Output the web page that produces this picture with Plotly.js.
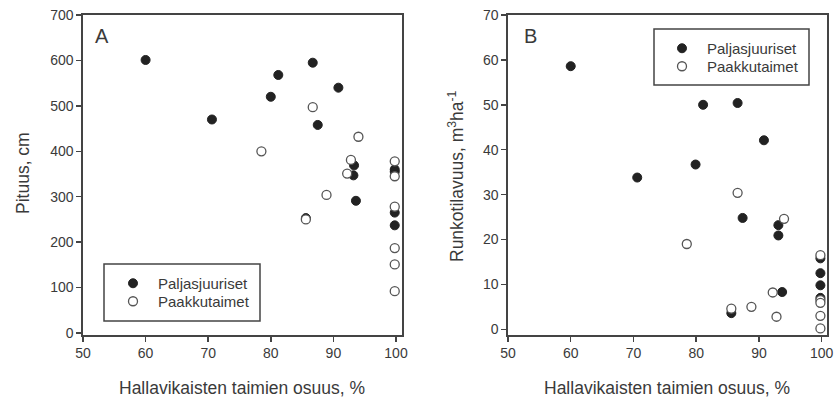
<!DOCTYPE html>
<html>
<head>
<meta charset="utf-8">
<script src="https://cdn.plot.ly/plotly-3.0.1.min.js"></script>
<style>html,body{margin:0;padding:0;background:#fff;}#chart{width:839px;height:399px;}</style>
</head>
<body>
<div id="chart"></div>
<script>
// Panel A: Pituus (cm)
const aBareX = [60.0, 70.6, 80.0, 81.2, 86.7, 90.8, 87.5, 93.3, 93.2, 93.6, 85.6, 99.8, 99.8, 99.8, 99.8];
const aBareY = [601, 470, 520, 568, 595, 540, 458, 369, 347, 291, 253, 360, 355, 265, 237];
const aPotX = [78.5, 86.7, 94.0, 92.8, 92.2, 88.9, 85.6, 99.8, 99.8, 99.8, 99.8, 99.8, 99.8];
const aPotY = [400, 497, 432, 381, 351, 304, 250, 378, 345, 278, 187, 151, 92];
// Panel B: Runkotilavuus (m3/ha)
const bBareX = [60.0, 70.6, 79.9, 81.1, 86.6, 90.8, 87.4, 93.1, 93.1, 93.7, 85.6, 99.8, 99.8, 99.8, 99.8];
const bBareY = [58.6, 33.8, 36.7, 50.0, 50.4, 42.1, 24.8, 23.2, 20.9, 8.3, 3.6, 15.8, 12.5, 9.8, 7.0];
const bPotX = [86.6, 78.5, 94.0, 85.6, 88.8, 92.2, 92.8, 99.8, 99.8, 99.8, 99.8, 99.8];
const bPotY = [30.4, 19.0, 24.6, 4.6, 5.0, 8.2, 2.8, 16.5, 6.5, 5.9, 3.0, 0.2];

const seriesNames = ["Paljasjuuriset", "Paakkutaimet"];
const xTicks = [50, 60, 70, 80, 90, 100];
const aTicks = [0, 100, 200, 300, 400, 500, 600, 700];
const bTicks = [0, 10, 20, 30, 40, 50, 60, 70];

const W = 839, H = 399;
const px = v => v / W, py = v => 1 - v / H;
const txt = '#3a3a3a';
const lineC = '#444';
const filledM = {size: 9, color: '#222', line: {color: '#222', width: 1}};
const openM = {size: 9, color: '#fff', line: {color: '#555', width: 1.3}};

const traces = [
  {x: aBareX, y: aBareY, xaxis: 'x', yaxis: 'y', mode: 'markers', type: 'scatter', name: seriesNames[0], marker: filledM, legend: 'legend', showlegend: true},
  {x: aPotX, y: aPotY, xaxis: 'x', yaxis: 'y', mode: 'markers', type: 'scatter', name: seriesNames[1], marker: openM, legend: 'legend2', showlegend: true},
  {x: bBareX, y: bBareY, xaxis: 'x2', yaxis: 'y2', mode: 'markers', type: 'scatter', name: seriesNames[0], marker: filledM, legend: 'legend3', showlegend: true},
  {x: bPotX, y: bPotY, xaxis: 'x2', yaxis: 'y2', mode: 'markers', type: 'scatter', name: seriesNames[1], marker: openM, legend: 'legend4', showlegend: true}
];

const axBase = {
  showgrid: false, zeroline: false, showline: true, linecolor: lineC, linewidth: 1.6,
  mirror: true, ticks: 'outside', ticklen: 5, tickwidth: 1.5, tickcolor: lineC,
  tickfont: {family: 'Liberation Sans, Arial, sans-serif', size: 14, color: txt},
  fixedrange: true
};
const yDom = [py(335), py(15)];

function leg(xc, yc) {
  return {x: px(xc - 25), y: py(yc - 16), xanchor: 'left', yanchor: 'top', bgcolor: 'rgba(0,0,0,0)', borderwidth: 0,
          itemwidth: 40, font: {size: 15, color: txt}, visible: true};
}

const layout = {
  width: W, height: H,
  margin: {l: 0, r: 0, t: 0, b: 0},
  showlegend: true,
  paper_bgcolor: '#fff', plot_bgcolor: '#fff',
  font: {family: 'Liberation Sans, Arial, sans-serif', color: txt},
  xaxis: Object.assign({}, axBase, {domain: [px(83), px(402)], range: [50, 100.96], tickvals: xTicks, anchor: 'y'}),
  yaxis: Object.assign({}, axBase, {domain: yDom, range: [-4.4, 700], tickvals: aTicks, anchor: 'x'}),
  xaxis2: Object.assign({}, axBase, {domain: [px(508), px(827)], range: [50, 100.85], tickvals: xTicks, anchor: 'y2'}),
  yaxis2: Object.assign({}, axBase, {domain: yDom, range: [-1.27, 70], tickvals: bTicks, anchor: 'x2'}),
  legend: leg(133, 283),
  legend2: leg(133, 301),
  legend3: leg(682, 48),
  legend4: leg(682, 66),
  shapes: [
    {type: 'rect', xref: 'paper', yref: 'paper', x0: px(104), x1: px(260), y0: py(264), y1: py(321), line: {color: lineC, width: 1.5}},
    {type: 'rect', xref: 'paper', yref: 'paper', x0: px(654), x1: px(809), y0: py(29), y1: py(85), line: {color: lineC, width: 1.5}}
  ],
  annotations: [
    {text: 'Hallavikaisten taimien osuus, %', xref: 'paper', yref: 'paper', x: px(242), y: py(388), xanchor: 'center', yanchor: 'middle', showarrow: false, font: {size: 17.5, color: txt}},
    {text: 'Hallavikaisten taimien osuus, %', xref: 'paper', yref: 'paper', x: px(667), y: py(388), xanchor: 'center', yanchor: 'middle', showarrow: false, font: {size: 17.5, color: txt}},
    {text: 'Pituus, cm', xref: 'paper', yref: 'paper', x: px(23), y: py(173), xanchor: 'center', yanchor: 'middle', textangle: -90, showarrow: false, font: {size: 17.5, color: txt}},
    {text: 'Runkotilavuus, m<sup>3</sup>ha<sup>-1</sup>', xref: 'paper', yref: 'paper', x: px(456), y: py(176), xanchor: 'center', yanchor: 'middle', textangle: -90, showarrow: false, font: {size: 17.5, color: txt}},
    {text: 'A', xref: 'paper', yref: 'paper', x: px(101.5), y: py(35.5), xanchor: 'center', yanchor: 'middle', showarrow: false, font: {size: 20, color: txt}},
    {text: 'B', xref: 'paper', yref: 'paper', x: px(530), y: py(35.5), xanchor: 'center', yanchor: 'middle', showarrow: false, font: {size: 20, color: txt}}
  ]
};

Plotly.newPlot('chart', traces, layout, {displayModeBar: false, staticPlot: true});
</script>
</body>
</html>
